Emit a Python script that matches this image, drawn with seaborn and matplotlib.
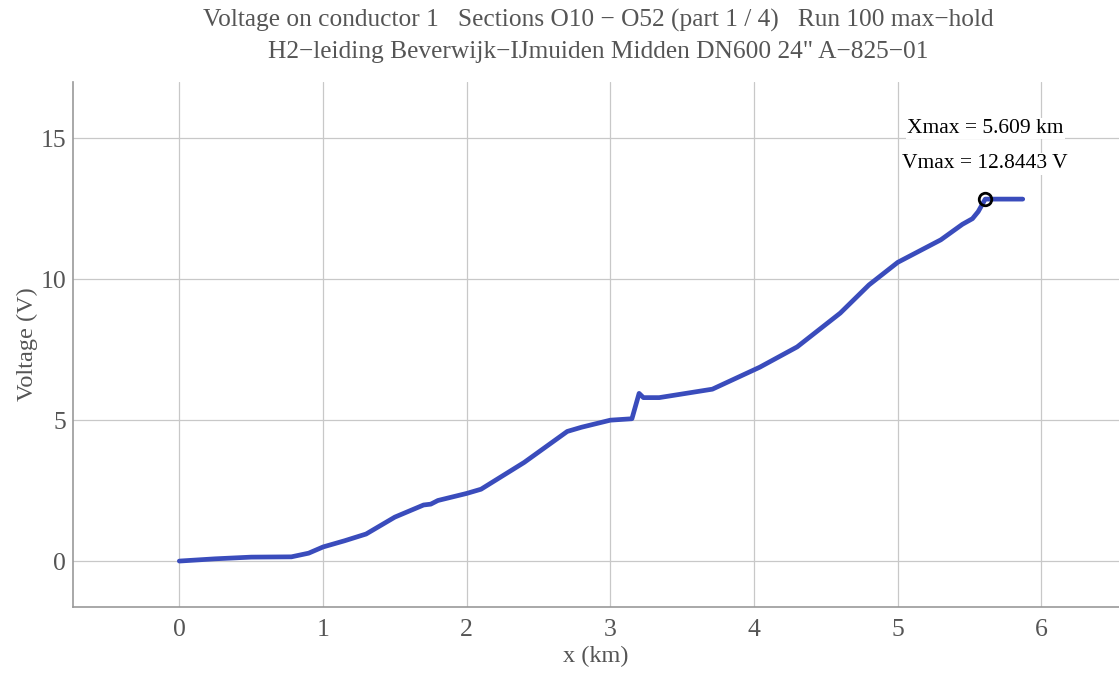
import numpy as np
import pandas as pd
import matplotlib
matplotlib.use("Agg")
import matplotlib.pyplot as plt
from matplotlib.ticker import AutoMinorLocator
import seaborn as sns

# distance along pipeline (km) and max-hold voltage (V)
x_km = [0.0, 0.25, 0.5, 0.78, 0.9, 1.0, 1.15, 1.3, 1.5, 1.7, 1.75, 1.8, 2.0, 2.1,
        2.4, 2.7, 2.8, 3.0, 3.15, 3.2, 3.23, 3.34, 3.71, 4.04, 4.3, 4.6, 4.8,
        5.0, 5.3, 5.45, 5.52, 5.56, 5.609, 5.87]
volt = [0.0, 0.08, 0.14, 0.15, 0.28, 0.5, 0.72, 0.96, 1.56, 1.99, 2.02, 2.15, 2.4, 2.55,
        3.5, 4.6, 4.75, 5.0, 5.05, 5.95, 5.8, 5.8, 6.1, 6.88, 7.6, 8.8, 9.8,
        10.6, 11.4, 11.95, 12.15, 12.4, 12.8443, 12.8443]
x_max = 5.609
v_max = 12.8443

title = ('Voltage on conductor 1   Sections O10 \u2212 O52 (part 1 / 4)   Run 100 max\u2212hold\n'
         'H2\u2212leiding Beverwijk\u2212IJmuiden Midden DN600 24" A\u2212825\u221201')

df = pd.DataFrame({"x": x_km, "v": volt})

sns.set_style("white")
plt.rcParams['font.family'] = ['Liberation Serif', 'DejaVu Serif']

fig = plt.figure(figsize=(11.19, 6.75), dpi=100)
ax = fig.add_axes([73 / 1119, 1 - 607 / 675, 1 - 73 / 1119, (607 - 82) / 675])
sns.lineplot(data=df, x="x", y="v", ax=ax, color="#3a4cbc", linewidth=3.4,
             estimator=None, sort=False)
ax.plot([x_max], [v_max], marker="o", markersize=9, markerfacecolor="none",
        markeredgecolor="black", markeredgewidth=2)

ax.text(x_max, 15.35, f"Xmax = {x_max} km", ha="center", va="center", fontsize=15.5,
        color="black", bbox=dict(facecolor="white", edgecolor="none", pad=1))
ax.text(x_max, 14.1, f"Vmax = {v_max} V", ha="center", va="center", fontsize=15.5,
        color="black", bbox=dict(facecolor="white", edgecolor="none", pad=1))

ax.set_xlim(-0.74, 6.54)
ax.set_ylim(-1.63, 17.0)
ax.set_xticks(range(0, 7))
ax.set_yticks([0, 5, 10, 15])
ax.xaxis.set_minor_locator(AutoMinorLocator(5))
ax.yaxis.set_minor_locator(AutoMinorLocator(5))
ax.grid(True, which="major", color="#c8c8c8", linewidth=0.9)
ax.tick_params(axis="both", which="both", direction="in", labelsize=18.5, colors="#888888",
               labelcolor="#555555")
ax.tick_params(which="major", length=5)
ax.tick_params(which="minor", length=3)
ax.tick_params(axis="x", which="major", pad=9)
ax.tick_params(axis="y", which="major", pad=5)
for s in ["top", "right"]:
    ax.spines[s].set_visible(False)
for s in ["bottom", "left"]:
    ax.spines[s].set_color("#999999")
    ax.spines[s].set_linewidth(1.2)

ax.set_xlabel("x (km)", fontsize=17.5, color="#555555", labelpad=3)
ax.set_ylabel("Voltage (V)", fontsize=17.5, color="#555555", labelpad=2)
fig.suptitle(title, fontsize=18.3, color="#555555", x=598 / 1119, y=1 - 9 / 675,
             va="top", linespacing=1.5)

fig.savefig("out.png", dpi=100)
